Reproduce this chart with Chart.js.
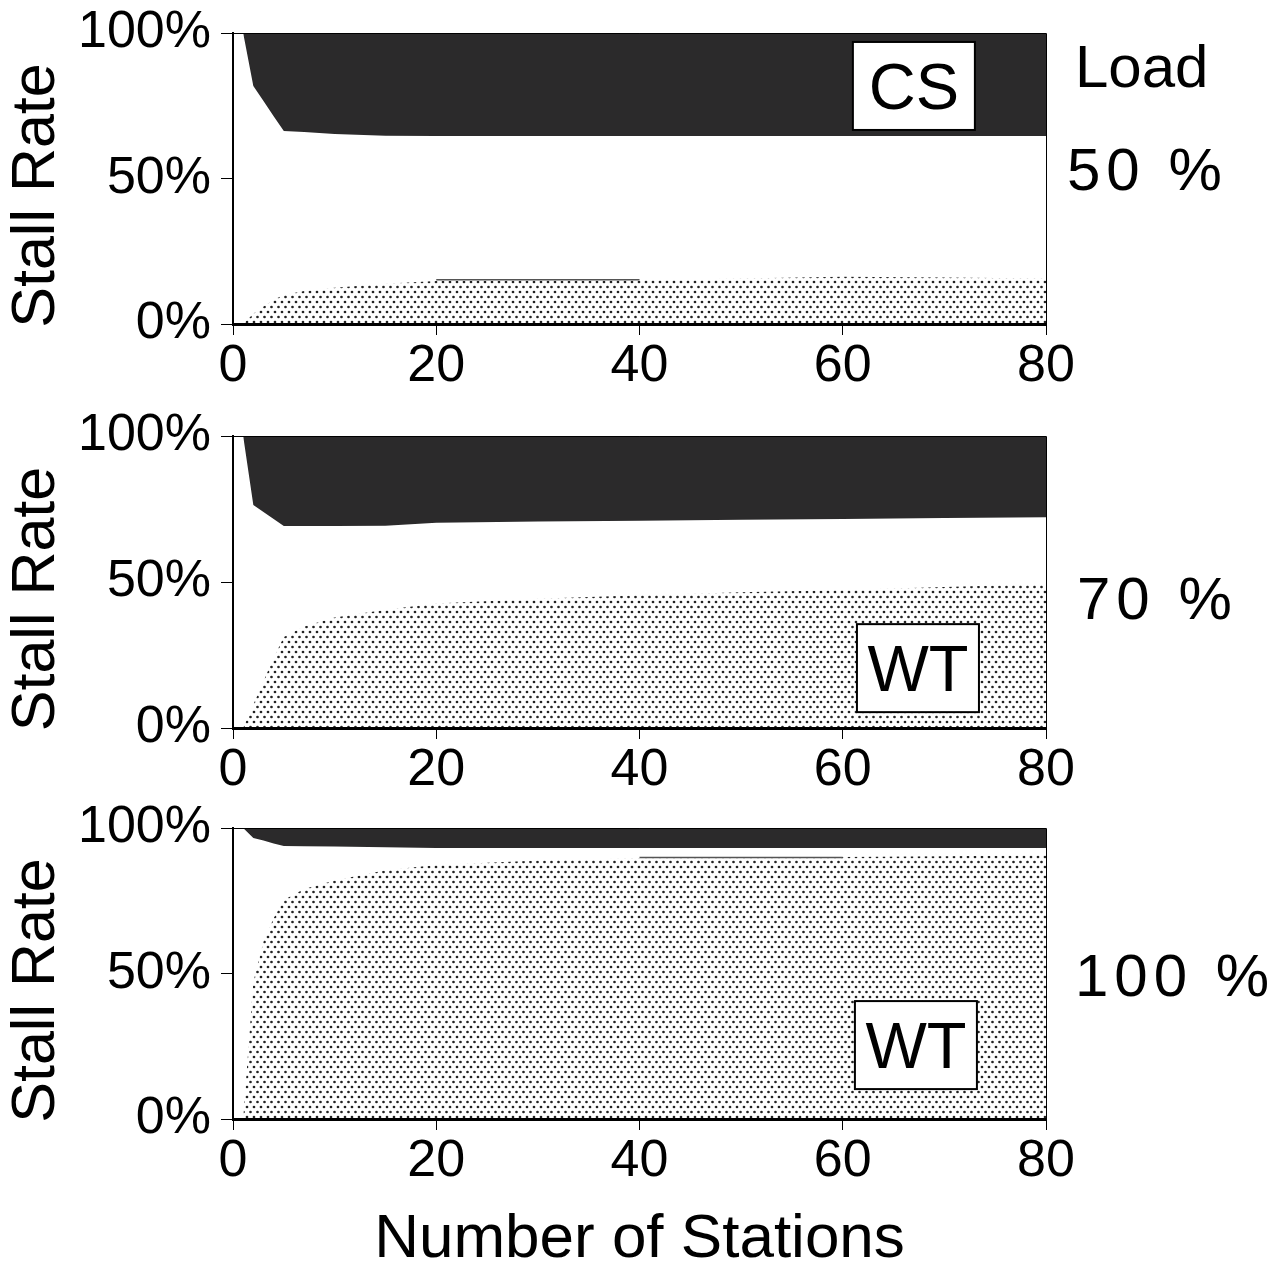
<!DOCTYPE html>
<html>
<head>
<meta charset="utf-8">
<script src="https://cdn.jsdelivr.net/npm/chart.js@4.4.1/dist/chart.umd.min.js"></script>
<style>
  body { margin: 0; background: #fff; width: 1282px; height: 1265px; position: relative; overflow: hidden; }
  canvas { position: absolute; left: 0; }
</style>
</head>
<body>
<canvas id="p1" width="1282" height="400" style="top:0px"></canvas>
<canvas id="p2" width="1282" height="400" style="top:400px"></canvas>
<canvas id="p3" width="1282" height="476" style="top:795px"></canvas>
<script>
"use strict";
// データ
const stations = [1, 2, 3, 4, 5, 7, 10, 15, 20, 30, 40, 50, 60, 70, 80];
const xTicks = [0, 20, 40, 60, 80];
const yTicks = [0, 50, 100];
const loadLabels = ["50 %", "70 %", "100 %"];
const schemeLabels = ["CS", "WT", "WT"];

// 黒い領域の下端 (上から塗る)
const black50 = [100, 81.8, 76.6, 71.4, 66.3, 66.0, 65.3, 64.7, 64.6, 64.6, 64.6, 64.6, 64.6, 64.6, 64.6];
const black70 = [100, 76.4, 74.0, 71.6, 69.2, 69.2, 69.2, 69.3, 70.3, 70.7, 71.0, 71.3, 71.6, 71.9, 72.2];
const black100 = [100, 96.6, 95.7, 94.7, 93.8, 93.7, 93.6, 93.4, 93.1, 93.1, 93.1, 93.1, 93.1, 93.1, 93.1];

// ドット領域の上端 (下から塗る)
const dots50 = [0, 3.5, 6.0, 8.3, 10.0, 11.3, 12.5, 13.8, 14.8, 15.0, 15.0, 15.6, 16.2, 16.0, 15.6];
const dots70 = [0, 8.0, 16.0, 24.0, 31.2, 34.8, 37.8, 40.5, 42.6, 44.3, 45.5, 46.5, 47.3, 48.3, 49.3];
const dots100 = [0, 47.0, 61.0, 69.0, 75.3, 79.0, 82.0, 85.5, 87.3, 88.8, 89.6, 89.8, 90.0, 90.3, 90.6];

// ドット領域の上にある細い線
const edgeX50 = [20, 40];
const edgeY50 = [15.2, 15.2];
const edgeX100 = [40, 60];
const edgeY100 = [89.9, 89.9];

const FONT = '"Liberation Sans", Arial, sans-serif';

// ドット模様
function makeDots() {
  const c = document.createElement("canvas");
  c.width = 14;
  c.height = 10;
  const g = c.getContext("2d");
  g.fillStyle = "#fff";
  g.fillRect(0, 0, 14, 10);
  g.fillStyle = "#222";
  [[2, 2], [9, 2], [5.5, 7], [12.5, 7]].forEach(([px, py]) => {
    g.beginPath();
    g.arc(px, py, 1.35, 0, Math.PI * 2);
    g.fill();
  });
  return g.createPattern(c, "repeat");
}
const dotPattern = makeDots();

function pts(xs, ys) {
  return xs.map((v, i) => ({ x: v, y: ys[i] }));
}

const panelText = {
  id: "panelText",
  afterDatasetsDraw(chart) {
    const { ctx, chartArea: a } = chart;
    ctx.save();
    ctx.strokeStyle = "#000";
    ctx.lineWidth = 1;
    ctx.beginPath();
    ctx.moveTo(a.left, a.top + 0.5);
    ctx.lineTo(a.right + 0.5, a.top + 0.5);
    ctx.lineTo(a.right + 0.5, a.bottom);
    ctx.stroke();
    ctx.restore();
  },
  afterDraw(chart, args, opts) {
    const { ctx, chartArea: a } = chart;
    const x = chart.scales.x, y = chart.scales.y;
    ctx.save();
    ctx.fillStyle = "#000";

    // 縦軸タイトル
    ctx.save();
    ctx.font = "61px " + FONT;
    ctx.translate(37, (a.top + a.bottom) / 2 + 17);
    ctx.rotate(-Math.PI / 2);
    ctx.textAlign = "center";
    ctx.textBaseline = "middle";
    ctx.fillText("Stall Rate", 0, 0);
    ctx.restore();

    // 方式のラベル
    const bx = x.getPixelForValue(opts.boxAt[0]);
    const by = y.getPixelForValue(opts.boxAt[1]);
    ctx.fillStyle = "#fff";
    ctx.fillRect(bx - 61, by - 44, 122, 88);
    ctx.strokeStyle = "#000";
    ctx.lineWidth = 2;
    ctx.strokeRect(bx - 61, by - 44, 122, 88);
    ctx.fillStyle = "#000";
    ctx.font = "65px " + FONT;
    ctx.textAlign = "center";
    ctx.textBaseline = "alphabetic";
    ctx.fillText(opts.box, bx, by + 23);

    // 右側の負荷ラベル
    ctx.font = "60px " + FONT;
    ctx.textAlign = "left";
    opts.side.forEach((s) => {
      ctx.letterSpacing = s.sp + "px";
      ctx.fillText(s.text, s.x, s.y);
    });
    ctx.restore();
  },
};

function makePanel(id, black, dots, edge, opts) {
  const datasets = [
    {
      label: "black",
      data: pts(stations, black),
      borderWidth: 0,
      pointRadius: 0,
      backgroundColor: "#2b2a2b",
      fill: "end",
    },
    {
      label: "dots",
      data: pts(stations, dots),
      borderWidth: 0,
      pointRadius: 0,
      backgroundColor: dotPattern,
      fill: "origin",
    },
  ];
  if (edge) {
    datasets.push({
      label: "edge",
      data: edge,
      borderWidth: 1.5,
      borderColor: "#555",
      pointRadius: 0,
      fill: false,
      order: -1,
    });
  }
  const ctx = document.getElementById(id).getContext("2d");
  return new Chart(ctx, {
    type: "line",
    data: { datasets: datasets },
    options: {
      responsive: false,
      animation: false,
      layout: { padding: { top: opts.top, left: 0, right: 236, bottom: 0 } },
      plugins: {
        legend: { display: false },
        tooltip: { enabled: false },
        panelText: { box: opts.box, boxAt: opts.boxAt, side: opts.side },
      },
      scales: {
        x: {
          type: "linear",
          min: 0,
          max: 80,
          afterBuildTicks: (s) => { s.ticks = xTicks.map((v) => ({ value: v })); },
          afterFit: (s) => { s.height = opts.xh; },
          ticks: { color: "#000", font: { family: FONT, size: 52, lineHeight: 1 }, padding: 6, maxRotation: 0 },
          grid: { drawOnChartArea: false, drawTicks: true, tickLength: 11, color: "#000", lineWidth: 1 },
          border: { display: true, color: "#000", width: 3, z: 1 },
          title: {
            display: !!opts.xTitle,
            text: opts.xTitle || "",
            color: "#000",
            font: { family: FONT, size: 62, lineHeight: 1 },
            padding: { top: 0, bottom: 0 },
          },
        },
        y: {
          type: "linear",
          min: 0,
          max: 100,
          afterBuildTicks: (s) => { s.ticks = yTicks.map((v) => ({ value: v })); },
          afterFit: (s) => { s.width = 233; },
          ticks: {
            color: "#000",
            font: { family: FONT, size: 52, lineHeight: 0.5 },
            padding: 10,
            callback: (v) => v + "%",
          },
          grid: { drawOnChartArea: false, drawTicks: true, tickLength: 12, color: "#000", lineWidth: 1 },
          border: { display: true, color: "#000", width: 2, z: 1 },
        },
      },
    },
    plugins: [panelText],
  });
}

makePanel("p1", black50, dots50, pts(edgeX50, edgeY50), {
  top: 33, xh: 76, box: schemeLabels[0], boxAt: [67, 81.8],
  side: [
    { text: "Load", x: 1075, y: 87, sp: 0 },
    { text: loadLabels[0], x: 1067, y: 190, sp: 6 },
  ],
});
makePanel("p2", black70, dots70, null, {
  top: 36, xh: 72, box: schemeLabels[1], boxAt: [67.4, 20.5],
  side: [{ text: loadLabels[1], x: 1077, y: 219, sp: 6 }],
});
makePanel("p3", black100, dots100, pts(edgeX100, edgeY100), {
  top: 33, xh: 152, box: schemeLabels[2], boxAt: [67.2, 25.4], xTitle: "Number of Stations",
  side: [{ text: loadLabels[2], x: 1075, y: 201, sp: 6 }],
});
</script>
</body>
</html>
